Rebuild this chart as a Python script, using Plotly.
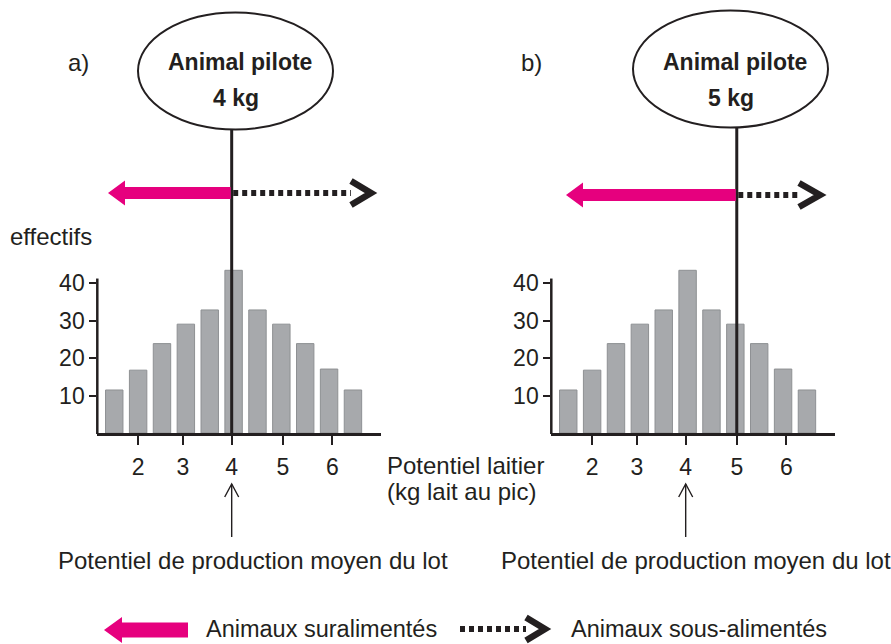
import plotly.graph_objects as go
import numpy as np

# ---------------- data ----------------
bins = list(range(11))                      # classes de potentiel laitier
effectifs = [11.5, 16.8, 23.9, 29.1, 32.9, 43.5, 32.9, 29.1, 23.9, 17.1, 11.5]
tick_values = [2, 3, 4, 5, 6]               # potentiel laitier (kg lait au pic)
tick_pos = [1.0, 2.88, 4.92, 7.06, 9.14]    # position of each label on the class axis
tick_labels = ["2", "3", "4", "5", "6"]
y_ticks = [10, 20, 30, 40]
pilot_kg = [4, 5]                           # animal pilote
lot_mean_kg = 4                             # potentiel moyen du lot
panel_labels = ["a)", "b)"]

# ---------------- geometry (pixels) ----------------
W, H = 891, 644
X_RANGE = [-0.71, 11.16]
PX_PER_X = 23.87
Y_RANGE = [0, 47]
PX_PER_Y = 3.74
BASE_PY = 433
Y_AXIS_TOP = 41.3
PANEL_LEFT = [97.3, 551.3]
INK = "#231F20"
PINK = "#E6007E"
FONT = "Liberation Sans, Arial, Helvetica, sans-serif"


def px(x):
    return x / W


def py(y):
    return 1 - y / H


def data_to_px(panel, xv):
    return PANEL_LEFT[panel] + (xv - X_RANGE[0]) * PX_PER_X


fig = go.Figure()
for i in range(2):
    suffix = "" if i == 0 else "2"
    fig.add_trace(go.Bar(
        x=bins, y=effectifs, width=0.73,
        marker=dict(color="#A7A9AC", line=dict(color="#8E9093", width=1)),
        xaxis="x" + suffix, yaxis="y" + suffix, hoverinfo="skip",
    ))

dom_w = (X_RANGE[1] - X_RANGE[0]) * PX_PER_X
y_dom = [py(BASE_PY), py(BASE_PY - (Y_RANGE[1] - Y_RANGE[0]) * PX_PER_Y)]

axis_font = dict(family=FONT, size=23, color=INK)
layout = dict(
    width=W, height=H, margin=dict(l=0, r=0, t=0, b=0),
    paper_bgcolor="white", plot_bgcolor="rgba(0,0,0,0)",
    showlegend=False, font=dict(family=FONT, color=INK),
)
for i in range(2):
    suffix = "" if i == 0 else "2"
    layout["xaxis" + suffix] = dict(
        domain=[px(PANEL_LEFT[i]), px(PANEL_LEFT[i] + dom_w)],
        range=X_RANGE, anchor="y" + suffix,
        showline=True, linecolor=INK, linewidth=2.5,
        ticks="outside", ticklen=9, tickwidth=2, tickcolor=INK,
        tickvals=tick_pos, ticktext=tick_labels, tickfont=axis_font,
        ticklabelstandoff=3,
        showgrid=False, zeroline=False, fixedrange=True,
    )
    layout["yaxis" + suffix] = dict(
        domain=y_dom, range=Y_RANGE, anchor="x" + suffix,
        showline=False, ticks="outside", ticklen=7, tickwidth=2, tickcolor=INK,
        tickvals=y_ticks, ticktext=[str(v) for v in y_ticks], tickfont=axis_font,
        showgrid=False, zeroline=False, fixedrange=True,
    )
fig.update_layout(**layout)

shapes = []
annotations = []

ellipses = [(235.5, 71.0), (730.5, 69.0)]
RX, RY = 97.5, 58.5


def pink_arrow(tip_x, shaft_end_x, cy, half_shaft, half_head, head_len):
    hx = tip_x + head_len
    pts = [(tip_x, cy), (hx, cy - half_head), (hx, cy - half_shaft),
           (shaft_end_x, cy - half_shaft), (shaft_end_x, cy + half_shaft),
           (hx, cy + half_shaft), (hx, cy + half_head)]
    path = "M " + " L ".join(f"{px(a):.5f},{py(b):.5f}" for a, b in pts) + " Z"
    return dict(type="path", xref="paper", yref="paper", path=path,
                fillcolor=PINK, line=dict(width=0), layer="above")


def dotted_arrow(x0, x_chev, x_tip, cy, half_h):
    out = [dict(type="line", xref="paper", yref="paper",
                x0=px(x0), x1=px(x_chev), y0=py(cy), y1=py(cy),
                line=dict(color=INK, width=6, dash="5px,4px"))]
    path = (f"M {px(x_chev):.5f},{py(cy - half_h):.5f} "
            f"L {px(x_tip):.5f},{py(cy):.5f} "
            f"L {px(x_chev):.5f},{py(cy + half_h):.5f}")
    out.append(dict(type="path", xref="paper", yref="paper", path=path,
                    line=dict(color=INK, width=6.5)))
    return out


arrow_rows = [
    # (tip pink, y, chevron start, chevron tip)
    (108, 193, 351, 371),
    (566, 195, 799, 820),
]

for i in range(2):
    suffix = "" if i == 0 else "2"
    xr = "x" + suffix
    # y axis line
    shapes.append(dict(type="line", xref="paper", yref="paper",
                       x0=px(PANEL_LEFT[i]), x1=px(PANEL_LEFT[i]),
                       y0=py(BASE_PY + 1), y1=py(BASE_PY - Y_AXIS_TOP * PX_PER_Y),
                       line=dict(color=INK, width=2.5)))
    # ellipse
    cx, cy = ellipses[i]
    shapes.append(dict(type="circle", xref="paper", yref="paper",
                       x0=px(cx - RX), x1=px(cx + RX), y0=py(cy + RY), y1=py(cy - RY),
                       line=dict(color=INK, width=2), fillcolor="rgba(0,0,0,0)"))
    # pilot line
    pilot_x = float(np.interp(pilot_kg[i], tick_values, tick_pos))
    shapes.append(dict(type="line", xref=xr, yref="paper",
                       x0=pilot_x, x1=pilot_x, y0=py(BASE_PY), y1=py(cy + RY),
                       line=dict(color=INK, width=3), layer="above"))
    lx = data_to_px(i, pilot_x)
    tip, ay, chev0, chev1 = arrow_rows[i]
    shapes.append(pink_arrow(tip, lx - 1, ay, 6, 12.5, 17))
    shapes.extend(dotted_arrow(lx + 1.5, chev0, chev1, ay, 12))
    # small arrow to the lot mean
    mean_x = float(np.interp(lot_mean_kg, tick_values, tick_pos))
    dx = 7 / PX_PER_X
    shapes.append(dict(type="line", xref=xr, yref="paper",
                       x0=mean_x, x1=mean_x, y0=py(537), y1=py(484),
                       line=dict(color=INK, width=1.4)))
    shapes.append(dict(type="path", xref=xr, yref="paper",
                       path=f"M {mean_x - dx:.4f},{py(497):.5f} L {mean_x:.4f},{py(484):.5f} "
                            f"L {mean_x + dx:.4f},{py(497):.5f}",
                       line=dict(color=INK, width=1.4)))

    # ellipse text
    annotations.append(dict(x=px(cx + 4), y=py(62), xref="paper", yref="paper",
                            text="<b>Animal pilote</b>", showarrow=False,
                            font=dict(family=FONT, size=23, color=INK),
                            xanchor="center", yanchor="middle"))
    annotations.append(dict(x=px(cx), y=py(98), xref="paper", yref="paper",
                            text=f"<b>{pilot_kg[i]} kg</b>", showarrow=False,
                            font=dict(family=FONT, size=23, color=INK),
                            xanchor="center", yanchor="middle"))

free_texts = [
    ("a)", 78, 62, "center", 24),
    ("b)", 531, 62, "center", 24),
    ("effectifs", 9, 236, "left", 24),
    ("Potentiel laitier", 386, 465, "left", 24),
    ("(kg lait au pic)", 386, 491, "left", 24),
    ("Potentiel de production moyen du lot", 253.5, 560, "center", 24),
    ("Potentiel de production moyen du lot", 695.5, 560, "center", 24),
    ("Animaux suralimentés", 205, 628.5, "left", 23.5),
    ("Animaux sous-alimentés", 570, 628.5, "left", 23.5),
]
for t, x, y, anc, sz in free_texts:
    annotations.append(dict(x=px(x), y=py(y), xref="paper", yref="paper", text=t,
                            showarrow=False, font=dict(family=FONT, size=sz, color=INK),
                            xanchor=anc, yanchor="middle", borderpad=0))

# legend symbols
shapes.append(pink_arrow(104, 188, 630, 7.5, 13, 18))
shapes.extend(dotted_arrow(460, 526, 545, 629, 11.5))

fig.update_layout(shapes=shapes, annotations=annotations)
fig.write_html(
    "out.html",
    config={"displayModeBar": False, "staticPlot": True},
    post_script="document.body.style.margin='0';document.body.style.padding='0';",
)
